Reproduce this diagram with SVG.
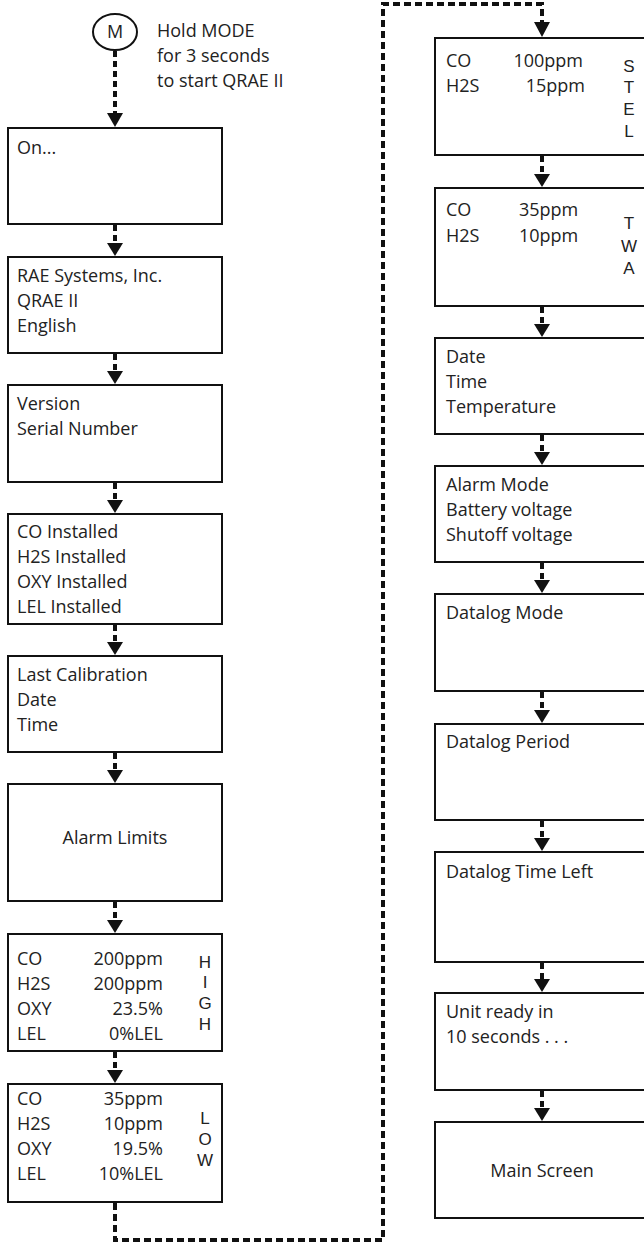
<svg xmlns="http://www.w3.org/2000/svg" width="644" height="1245" viewBox="0 0 644 1245">
<style>
  .box { fill: #ffffff; stroke: #111111; stroke-width: 2; }
  .t { font-family: "Open Sans", "Liberation Sans", sans-serif; font-size: 18px; fill: #222222; }
  .v { font-family: "Liberation Sans", Arial, sans-serif; font-size: 17px; fill: #222222; text-anchor: middle; }
  .m { text-anchor: middle; }
  .e { text-anchor: end; }
  .dash { fill: none; stroke: #111111; stroke-width: 4; stroke-dasharray: 6 4; }
  .long { fill: none; stroke: #111111; stroke-width: 4; stroke-dasharray: 7 4; }
  .head { fill: #111111; }
</style>
<rect x="0" y="0" width="644" height="1245" fill="#ffffff"/>

<g id="connectors">
  <path class="dash" d="M115,51 V114"/>
  <polygon class="head" points="107,113 123,113 115,127"/>
  <path class="dash" d="M115,225 V243"/><polygon class="head" points="107,243 123,243 115,256"/>
  <path class="dash" d="M115,354 V371"/><polygon class="head" points="107,371 123,371 115,384"/>
  <path class="dash" d="M115,483 V500"/><polygon class="head" points="107,500 123,500 115,513"/>
  <path class="dash" d="M115,625 V642"/><polygon class="head" points="107,642 123,642 115,655"/>
  <path class="dash" d="M115,753 V770"/><polygon class="head" points="107,770 123,770 115,783"/>
  <path class="dash" d="M115,902 V920"/><polygon class="head" points="107,920 123,920 115,933"/>
  <path class="dash" d="M115,1052 V1070"/><polygon class="head" points="107,1070 123,1070 115,1083"/>
  <path class="long" d="M115,1203 V1240 H383 V4 H542 V22"/>
  <polygon class="head" points="534,22 550,22 542,37"/>
  <path class="dash" d="M542,156 V174"/><polygon class="head" points="534,174 550,174 542,187"/>
  <path class="dash" d="M542,307 V324"/><polygon class="head" points="534,324 550,324 542,337"/>
  <path class="dash" d="M542,435 V452"/><polygon class="head" points="534,452 550,452 542,465"/>
  <path class="dash" d="M542,563 V580"/><polygon class="head" points="534,580 550,580 542,593"/>
  <path class="dash" d="M542,692 V710"/><polygon class="head" points="534,710 550,710 542,723"/>
  <path class="dash" d="M542,821 V838"/><polygon class="head" points="534,838 550,838 542,851"/>
  <path class="dash" d="M542,963 V979"/><polygon class="head" points="534,979 550,979 542,992"/>
  <path class="dash" d="M542,1091 V1108"/><polygon class="head" points="534,1108 550,1108 542,1121"/>
</g>

<g id="start">
  <ellipse cx="115" cy="32" rx="22" ry="18" fill="#ffffff" stroke="#111111" stroke-width="2"/>
  <text class="t m" x="115" y="38">M</text>
  <text class="t" x="157" y="37">Hold MODE</text>
  <text class="t" x="157" y="62">for 3 seconds</text>
  <text class="t" x="157" y="87">to start QRAE II</text>
</g>

<g id="on">
  <rect class="box" x="8" y="128" width="214" height="96"/>
  <text class="t" x="17" y="154">On...</text>
</g>
<g id="rae">
  <rect class="box" x="8" y="257" width="214" height="96"/>
  <text class="t" x="17" y="282">RAE Systems, Inc.</text>
  <text class="t" x="17" y="307">QRAE II</text>
  <text class="t" x="17" y="332">English</text>
</g>
<g id="version">
  <rect class="box" x="8" y="385" width="214" height="97"/>
  <text class="t" x="17" y="410">Version</text>
  <text class="t" x="17" y="435">Serial Number</text>
</g>
<g id="installed">
  <rect class="box" x="8" y="514" width="214" height="110"/>
  <text class="t" x="17" y="538">CO Installed</text>
  <text class="t" x="17" y="563">H2S Installed</text>
  <text class="t" x="17" y="588">OXY Installed</text>
  <text class="t" x="17" y="613">LEL Installed</text>
</g>
<g id="lastcal">
  <rect class="box" x="8" y="656" width="214" height="96"/>
  <text class="t" x="17" y="681">Last Calibration</text>
  <text class="t" x="17" y="706">Date</text>
  <text class="t" x="17" y="731">Time</text>
</g>
<g id="alarmlimits">
  <rect class="box" x="8" y="784" width="214" height="117"/>
  <text class="t m" x="115" y="844">Alarm Limits</text>
</g>
<g id="high">
  <rect class="box" x="8" y="934" width="214" height="117"/>
  <text class="t" x="17" y="965">CO</text>
  <text class="t" x="17" y="990">H2S</text>
  <text class="t" x="17" y="1015">OXY</text>
  <text class="t" x="17" y="1040">LEL</text>
  <text class="t e" x="163" y="965">200ppm</text>
  <text class="t e" x="163" y="990">200ppm</text>
  <text class="t e" x="163" y="1015">23.5%</text>
  <text class="t e" x="163" y="1040">0%LEL</text>
  <text class="v" x="205" y="968">H</text>
  <text class="v" x="205" y="988">I</text>
  <text class="v" x="205" y="1009">G</text>
  <text class="v" x="205" y="1030">H</text>
</g>
<g id="low">
  <rect class="box" x="8" y="1084" width="214" height="118"/>
  <text class="t" x="17" y="1105">CO</text>
  <text class="t" x="17" y="1130">H2S</text>
  <text class="t" x="17" y="1155">OXY</text>
  <text class="t" x="17" y="1180">LEL</text>
  <text class="t e" x="163" y="1105">35ppm</text>
  <text class="t e" x="163" y="1130">10ppm</text>
  <text class="t e" x="163" y="1155">19.5%</text>
  <text class="t e" x="163" y="1180">10%LEL</text>
  <text class="v" x="205" y="1124">L</text>
  <text class="v" x="205" y="1145">O</text>
  <text class="v" x="205" y="1166">W</text>
</g>

<g id="stel">
  <rect class="box" x="435" y="38" width="215" height="117"/>
  <text class="t" x="446" y="67">CO</text>
  <text class="t" x="446" y="92">H2S</text>
  <text class="t e" x="583" y="67">100ppm</text>
  <text class="t e" x="585" y="92">15ppm</text>
  <text class="v" x="629" y="72">S</text>
  <text class="v" x="629" y="93">T</text>
  <text class="v" x="629" y="115">E</text>
  <text class="v" x="629" y="137">L</text>
</g>
<g id="twa">
  <rect class="box" x="435" y="188" width="215" height="118"/>
  <text class="t" x="446" y="216">CO</text>
  <text class="t" x="446" y="242">H2S</text>
  <text class="t" x="519" y="216">35ppm</text>
  <text class="t" x="519" y="242">10ppm</text>
  <text class="v" x="629" y="229">T</text>
  <text class="v" x="629" y="252">W</text>
  <text class="v" x="629" y="274">A</text>
</g>
<g id="datetime">
  <rect class="box" x="435" y="338" width="215" height="96"/>
  <text class="t" x="446" y="363">Date</text>
  <text class="t" x="446" y="388">Time</text>
  <text class="t" x="446" y="413">Temperature</text>
</g>
<g id="alarmmode">
  <rect class="box" x="435" y="466" width="215" height="96"/>
  <text class="t" x="446" y="491">Alarm Mode</text>
  <text class="t" x="446" y="516">Battery voltage</text>
  <text class="t" x="446" y="541">Shutoff voltage</text>
</g>
<g id="datalogmode">
  <rect class="box" x="435" y="594" width="215" height="97"/>
  <text class="t" x="446" y="619">Datalog Mode</text>
</g>
<g id="datalogperiod">
  <rect class="box" x="435" y="724" width="215" height="96"/>
  <text class="t" x="446" y="748">Datalog Period</text>
</g>
<g id="datalogtimeleft">
  <rect class="box" x="435" y="852" width="215" height="110"/>
  <text class="t" x="446" y="878">Datalog Time Left</text>
</g>
<g id="unitready">
  <rect class="box" x="435" y="993" width="215" height="97"/>
  <text class="t" x="446" y="1018">Unit ready in</text>
  <text class="t" x="446" y="1043">10 seconds . . .</text>
</g>
<g id="mainscreen">
  <rect class="box" x="435" y="1122" width="215" height="96"/>
  <text class="t m" x="542" y="1177">Main Screen</text>
</g>
</svg>
